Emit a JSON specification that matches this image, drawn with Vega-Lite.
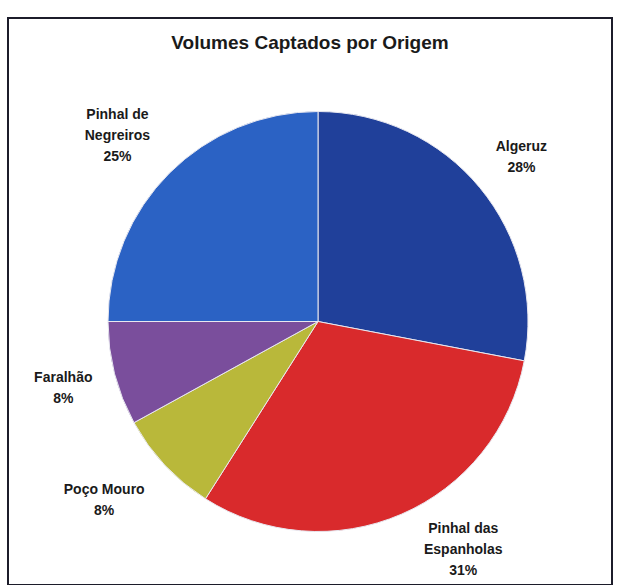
{
  "$schema": "https://vega.github.io/schema/vega-lite/v6.json",
  "width": 604,
  "height": 567,
  "autosize": {"type": "none"},
  "padding": {"left": 8, "top": 18, "right": 7, "bottom": 0},
  "background": "white",
  "config": {"view": {"stroke": null}},
  "title": {"text": "Volumes Captados por Origem", "font": "Liberation Sans", "fontSize": 19, "fontWeight": "bold", "color": "#1a1a1a", "anchor": "middle", "offset": -36, "limit": 0},
  "data": {"values": [
    {"ordem": 1, "origem": "Algeruz", "nome": "Algeruz", "pct": 28},
    {"ordem": 2, "origem": "Pinhal das Espanholas", "nome": "Pinhal das\nEspanholas", "pct": 31},
    {"ordem": 3, "origem": "Poço Mouro", "nome": "Poço Mouro", "pct": 8},
    {"ordem": 4, "origem": "Faralhão", "nome": "Faralhão", "pct": 8},
    {"ordem": 5, "origem": "Pinhal de Negreiros", "nome": "Pinhal de\nNegreiros", "pct": 25}
  ]},
  "transform": [
    {"calculate": "datum.nome + '\\n' + datum.pct + '%'", "as": "rotulo"},
    {"stack": "pct", "groupby": [], "sort": [{"field": "ordem", "order": "ascending"}], "as": ["t0", "t1"]},
    {"calculate": "(datum.t0 + datum.t1) / 2", "as": "tmid"}
  ],
  "layer": [
    {
      "data": {"values": [{"moldura": 1}]},
      "transform": [],
      "mark": {"type": "rect", "fill": null, "stroke": "#1c1c2a", "strokeWidth": 2},
      "encoding": {}
    },
    {
      "mark": {"type": "arc", "outerRadius": 210, "xOffset": 8, "yOffset": 20, "stroke": "#e8e8f0", "strokeWidth": 1},
      "encoding": {
        "theta": {"field": "t0", "type": "quantitative", "scale": {"domain": [0, 100]}},
        "theta2": {"field": "t1"},
        "color": {"field": "origem", "type": "nominal", "legend": null,
          "scale": {"domain": ["Algeruz", "Pinhal das Espanholas", "Poço Mouro", "Faralhão", "Pinhal de Negreiros"],
                    "range": ["#20409a", "#d92a2c", "#b9b83a", "#7a4e9c", "#2b62c4"]}}
      }
    },
    {
      "transform": [{"filter": "datum.ordem == 1"}],
      "mark": {"type": "text", "radius": 264, "xOffset": 8, "yOffset": 14, "lineBreak": "\n", "font": "Liberation Sans", "fontSize": 14, "fontWeight": "bold", "color": "#1a1a1a", "letterSpacing": -0.5, "lineHeight": 21},
      "encoding": {
        "theta": {"field": "tmid", "type": "quantitative", "scale": {"domain": [0, 100]}},
        "text": {"field": "rotulo", "type": "nominal"}
      }
    },
    {
      "transform": [{"filter": "datum.ordem == 4"}],
      "mark": {"type": "text", "radius": 264, "xOffset": 9, "yOffset": 11, "lineBreak": "\n", "font": "Liberation Sans", "fontSize": 14, "fontWeight": "bold", "color": "#1a1a1a", "letterSpacing": -0.5, "lineHeight": 21},
      "encoding": {
        "theta": {"field": "tmid", "type": "quantitative", "scale": {"domain": [0, 100]}},
        "text": {"field": "rotulo", "type": "nominal"}
      }
    },
    {
      "transform": [{"filter": "datum.ordem == 5"}],
      "mark": {"type": "text", "radius": 278, "xOffset": 4, "yOffset": 10, "lineBreak": "\n", "font": "Liberation Sans", "fontSize": 14, "fontWeight": "bold", "color": "#1a1a1a", "letterSpacing": -0.5, "lineHeight": 21},
      "encoding": {
        "theta": {"field": "tmid", "type": "quantitative", "scale": {"domain": [0, 100]}},
        "text": {"field": "rotulo", "type": "nominal"}
      }
    },
    {
      "transform": [{"filter": "datum.ordem == 2"}],
      "mark": {"type": "text", "radius": 272, "thetaOffset": -0.155, "xOffset": 8, "yOffset": -2, "lineBreak": "\n", "font": "Liberation Sans", "fontSize": 14, "fontWeight": "bold", "color": "#1a1a1a", "letterSpacing": -0.5, "lineHeight": 21},
      "encoding": {
        "theta": {"field": "tmid", "type": "quantitative", "scale": {"domain": [0, 100]}},
        "text": {"field": "rotulo", "type": "nominal"}
      }
    },
    {
      "transform": [{"filter": "datum.ordem == 3"}],
      "mark": {"type": "text", "radius": 288, "thetaOffset": 0.09, "xOffset": 21, "yOffset": 11, "lineBreak": "\n", "font": "Liberation Sans", "fontSize": 14, "fontWeight": "bold", "color": "#1a1a1a", "letterSpacing": -0.5, "lineHeight": 21},
      "encoding": {
        "theta": {"field": "tmid", "type": "quantitative", "scale": {"domain": [0, 100]}},
        "text": {"field": "rotulo", "type": "nominal"}
      }
    }
  ]
}
